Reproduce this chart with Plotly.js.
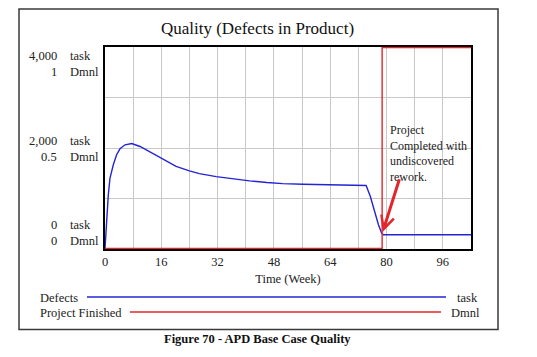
<!DOCTYPE html>
<html>
<head>
<meta charset="utf-8">
<script src="https://cdn.plot.ly/plotly-3.0.1.min.js"></script>
<style>
html,body{margin:0;padding:0;background:#fff;}
#chart{width:537px;height:357px;}
</style>
</head>
<body>
<div id="chart"></div>
<script>
// ---- data ----
var weeks = [0, 0.48, 0.94, 1.42, 2.36, 3.3, 4.26, 5.7, 7.6, 9.95, 12.8, 15.4, 18.0, 20.2, 24.0, 26.8, 31.6, 36.3, 41.1, 46.0, 50.5, 56.2, 62.0, 66.6, 74.2, 75.4, 76.7, 77.7, 78.6, 79.1, 104];
var defects = [0, 605, 1069, 1401, 1666, 1865, 1984, 2064, 2090, 2030, 1918, 1811, 1710, 1635, 1545, 1490, 1430, 1385, 1345, 1312, 1290, 1278, 1268, 1262, 1254, 1035, 704, 472, 306, 273, 273];
var finishWeeks = [0, 78.75, 104];
var projectFinished = [0, 1, 1];

var xGrid = [0, 8, 16, 24, 32, 40, 48, 56, 64, 72, 80, 88, 96, 104];
var xTickLabels = ['0', '', '16', '', '32', '', '48', '', '64', '', '80', '', '96', ''];
var taskTicks = [0, 2000, 4000];
var taskTickLabels = ['0', '2,000', '4,000'];
var dmnlTickLabels = ['0', '0.5', '1'];
var yGrid = [0, 1000, 2000, 3000, 4000];

var titleText = 'Quality (Defects in Product)';
var xTitle = 'Time (Week)';
var seriesNames = ['Defects', 'Project Finished'];
var seriesUnits = ['task', 'Dmnl'];
var noteText = 'Project<br>Completed with<br>undiscovered<br>rework.';
var captionText = 'Figure 70 - APD Base Case Quality';

// ---- styling / layout helpers ----
var W = 537, H = 357;
var L = 105, R = 66, T = 47, B = 108;
var PW = W - L - R, PH = H - T - B;
function px(x) { return (x - L) / PW; }
function py(y) { return (T + PH - y) / PH; }
var serif = 'Liberation Serif, Times New Roman, serif';
var blue = '#2424d4', red = '#e3262b';
var gridCol = '#c9c9c9';
var taskShift = [23, 7, -8.5];
var dmnlShift = [7, -9, -24];

var traces = [
  {x: weeks, y: defects, type: 'scatter', mode: 'lines', name: seriesNames[0],
   line: {color: blue, width: 1.4}, yaxis: 'y', hoverinfo: 'skip'},
  {x: finishWeeks, y: projectFinished, type: 'scatter', mode: 'lines', name: seriesNames[1],
   line: {color: red, width: 1.4, shape: 'hv'}, yaxis: 'y2', hoverinfo: 'skip'}
];

var ann = [];
// y tick labels (two unit scales)
for (var i = 0; i < taskTicks.length; i++) {
  ann.push({xref: 'paper', yref: 'y', x: px(59), y: taskTicks[i], yshift: taskShift[i],
    text: taskTickLabels[i], showarrow: false, xanchor: 'right', yanchor: 'middle',
    font: {family: serif, size: 12.5, color: '#222'}});
  ann.push({xref: 'paper', yref: 'y', x: px(68), y: taskTicks[i], yshift: taskShift[i],
    text: seriesUnits[0], showarrow: false, xanchor: 'left', yanchor: 'middle',
    font: {family: serif, size: 12.5, color: '#222'}});
  ann.push({xref: 'paper', yref: 'y', x: px(59), y: taskTicks[i], yshift: dmnlShift[i],
    text: dmnlTickLabels[i], showarrow: false, xanchor: 'right', yanchor: 'middle',
    font: {family: serif, size: 12.5, color: '#222'}});
  ann.push({xref: 'paper', yref: 'y', x: px(68), y: taskTicks[i], yshift: dmnlShift[i],
    text: seriesUnits[1], showarrow: false, xanchor: 'left', yanchor: 'middle',
    font: {family: serif, size: 12.5, color: '#222'}});
}
// note with arrow
ann.push({xref: 'paper', yref: 'paper', x: px(388), y: py(121), text: noteText, align: 'left',
  showarrow: false, xanchor: 'left', yanchor: 'top',
  font: {family: serif, size: 12, color: '#222'}});
ann.push({xref: 'x', yref: 'y', x: finishWeeks[1] + 0.2, y: defects[defects.length - 1] + 60,
  ax: 17, ay: -54, text: '', showarrow: true, arrowhead: 5, arrowsize: 0.85, arrowwidth: 3,
  arrowcolor: red, standoff: 0});
// legend
var legY = [297.5, 312.5];
var legLine = [[87, 446], [130, 441]];
var unitX = [455, 449];
for (var k = 0; k < 2; k++) {
  ann.push({xref: 'paper', yref: 'paper', x: px(38), y: py(legY[k]), text: seriesNames[k],
    showarrow: false, xanchor: 'left', yanchor: 'middle',
    font: {family: serif, size: 12.5, color: '#222'}});
  ann.push({xref: 'paper', yref: 'paper', x: px(unitX[k]), y: py(legY[k]), text: seriesUnits[k],
    showarrow: false, xanchor: 'left', yanchor: 'middle',
    font: {family: serif, size: 12.5, color: '#222'}});
}
// caption
ann.push({xref: 'paper', yref: 'paper', x: px(257.5), y: py(338.5), text: '<b>' + captionText + '</b>',
  showarrow: false, xanchor: 'center', yanchor: 'middle',
  font: {family: serif, size: 12.5, color: '#111'}});

var shapes = [
  {type: 'rect', xref: 'paper', yref: 'paper', x0: px(19), x1: px(498), y0: py(9), y1: py(329.5),
   line: {color: '#3a3a3a', width: 1.5}, fillcolor: 'rgba(0,0,0,0)', layer: 'below'},
  {type: 'line', xref: 'paper', yref: 'paper', x0: px(legLine[0][0]), x1: px(legLine[0][1]),
   y0: py(297), y1: py(297), line: {color: blue, width: 1.4}},
  {type: 'line', xref: 'paper', yref: 'paper', x0: px(legLine[1][0]), x1: px(legLine[1][1]),
   y0: py(312), y1: py(312), line: {color: red, width: 1.4}}
];

var layout = {
  width: W, height: H,
  margin: {l: L, r: R, t: T, b: B, pad: 0},
  paper_bgcolor: '#fff', plot_bgcolor: '#fff',
  showlegend: false,
  title: {text: titleText, font: {family: serif, size: 17, color: '#111'},
    xref: 'container', yref: 'container', x: 257.5 / W, y: 1 - 28 / H,
    xanchor: 'center', yanchor: 'middle'},
  xaxis: {range: [0, 104], tickmode: 'array', tickvals: xGrid, ticktext: xTickLabels,
    ticks: '', showgrid: true, gridcolor: gridCol, gridwidth: 1, zeroline: false,
    showline: true, linecolor: '#000', linewidth: 2, mirror: true, layer: 'below traces',
    tickfont: {family: serif, size: 12.5, color: '#222'},
    title: {text: xTitle, font: {family: serif, size: 12.5, color: '#222'}, standoff: 6}},
  yaxis: {range: [-12, 4012], tickmode: 'array', tickvals: yGrid, showticklabels: false,
    ticks: '', showgrid: true, gridcolor: gridCol, gridwidth: 1, zeroline: false,
    showline: true, linecolor: '#000', linewidth: 2, mirror: true, layer: 'below traces'},
  yaxis2: {range: [-0.003, 1.003], overlaying: 'y', side: 'right', showgrid: false,
    showticklabels: false, ticks: '', zeroline: false, showline: false},
  annotations: ann,
  shapes: shapes
};

Plotly.newPlot('chart', traces, layout, {staticPlot: true, displayModeBar: false});
</script>
</body>
</html>
